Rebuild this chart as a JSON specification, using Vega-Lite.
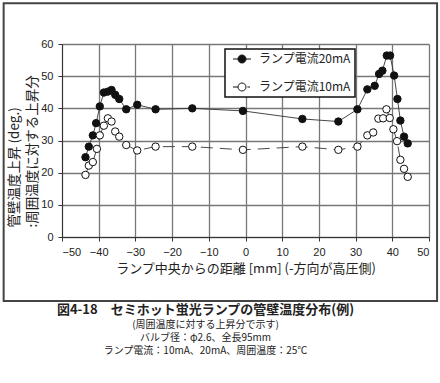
{
  "$schema": "https://vega.github.io/schema/vega-lite/v6.json",
  "width": 367,
  "height": 193,
  "autosize": "none",
  "padding": {"left": 62, "top": 44, "right": 11, "bottom": 146},
  "background": "white",
  "config": {
    "view": {"stroke": null},
    "axis": {
      "labelFont": "Liberation Sans",
      "labelFontSize": 11,
      "labelColor": "#222",
      "titleFont": "Noto Sans CJK JP",
      "titleFontSize": 13,
      "titleFontWeight": "normal",
      "titleColor": "#222",
      "domainColor": "#333",
      "tickColor": "#333",
      "tickSize": 4
    }
  },
  "data": {"values": [
    {"x": -43.6, "y": 24.8, "s": "ランプ電流20mA"},
    {"x": -42.7, "y": 28.1, "s": "ランプ電流20mA"},
    {"x": -41.6, "y": 31.6, "s": "ランプ電流20mA"},
    {"x": -40.7, "y": 35.4, "s": "ランプ電流20mA"},
    {"x": -39.7, "y": 40.6, "s": "ランプ電流20mA"},
    {"x": -38.6, "y": 44.9, "s": "ランプ電流20mA"},
    {"x": -37.5, "y": 45.2, "s": "ランプ電流20mA"},
    {"x": -36.5, "y": 45.7, "s": "ランプ電流20mA"},
    {"x": -35.5, "y": 44.2, "s": "ランプ電流20mA"},
    {"x": -34.4, "y": 42.9, "s": "ランプ電流20mA"},
    {"x": -32.5, "y": 39.7, "s": "ランプ電流20mA"},
    {"x": -29.5, "y": 41.1, "s": "ランプ電流20mA"},
    {"x": -24.5, "y": 39.7, "s": "ランプ電流20mA"},
    {"x": -14.5, "y": 40.0, "s": "ランプ電流20mA"},
    {"x": -0.7, "y": 39.2, "s": "ランプ電流20mA"},
    {"x": 15.5, "y": 36.7, "s": "ランプ電流20mA"},
    {"x": 25.3, "y": 35.9, "s": "ランプ電流20mA"},
    {"x": 30.5, "y": 39.7, "s": "ランプ電流20mA"},
    {"x": 33.2, "y": 45.9, "s": "ランプ電流20mA"},
    {"x": 35.2, "y": 47.0, "s": "ランプ電流20mA"},
    {"x": 36.4, "y": 50.7, "s": "ランプ電流20mA"},
    {"x": 37.3, "y": 51.7, "s": "ランプ電流20mA"},
    {"x": 38.5, "y": 56.4, "s": "ランプ電流20mA"},
    {"x": 39.4, "y": 56.4, "s": "ランプ電流20mA"},
    {"x": 40.5, "y": 50.2, "s": "ランプ電流20mA"},
    {"x": 41.4, "y": 42.9, "s": "ランプ電流20mA"},
    {"x": 42.2, "y": 36.2, "s": "ランプ電流20mA"},
    {"x": 43.2, "y": 31.2, "s": "ランプ電流20mA"},
    {"x": 44.2, "y": 29.1, "s": "ランプ電流20mA"},
    {"x": -43.6, "y": 19.3, "s": "ランプ電流10mA"},
    {"x": -42.7, "y": 22.2, "s": "ランプ電流10mA"},
    {"x": -41.6, "y": 23.3, "s": "ランプ電流10mA"},
    {"x": -40.5, "y": 27.4, "s": "ランプ電流10mA"},
    {"x": -39.7, "y": 31.6, "s": "ランプ電流10mA"},
    {"x": -38.6, "y": 34.6, "s": "ランプ電流10mA"},
    {"x": -37.5, "y": 36.9, "s": "ランプ電流10mA"},
    {"x": -36.5, "y": 35.9, "s": "ランプ電流10mA"},
    {"x": -35.5, "y": 32.8, "s": "ランプ電流10mA"},
    {"x": -34.4, "y": 31.2, "s": "ランプ電流10mA"},
    {"x": -32.5, "y": 28.6, "s": "ランプ電流10mA"},
    {"x": -29.5, "y": 26.9, "s": "ランプ電流10mA"},
    {"x": -24.5, "y": 28.1, "s": "ランプ電流10mA"},
    {"x": -14.5, "y": 28.1, "s": "ランプ電流10mA"},
    {"x": -0.7, "y": 27.1, "s": "ランプ電流10mA"},
    {"x": 15.5, "y": 28.1, "s": "ランプ電流10mA"},
    {"x": 25.3, "y": 27.1, "s": "ランプ電流10mA"},
    {"x": 30.5, "y": 28.1, "s": "ランプ電流10mA"},
    {"x": 33.2, "y": 31.6, "s": "ランプ電流10mA"},
    {"x": 34.8, "y": 32.5, "s": "ランプ電流10mA"},
    {"x": 36.2, "y": 36.8, "s": "ランプ電流10mA"},
    {"x": 37.5, "y": 36.9, "s": "ランプ電流10mA"},
    {"x": 38.4, "y": 39.7, "s": "ランプ電流10mA"},
    {"x": 39.3, "y": 37.0, "s": "ランプ電流10mA"},
    {"x": 40.3, "y": 33.5, "s": "ランプ電流10mA"},
    {"x": 41.3, "y": 29.8, "s": "ランプ電流10mA"},
    {"x": 42.2, "y": 24.0, "s": "ランプ電流10mA"},
    {"x": 43.2, "y": 21.2, "s": "ランプ電流10mA"},
    {"x": 44.2, "y": 18.7, "s": "ランプ電流10mA"}
  ]},
  "encoding": {
    "x": {
      "field": "x", "type": "quantitative",
      "scale": {"domain": [-50, 50], "nice": false, "zero": false},
      "axis": {
        "values": [-50, -40, -30, -20, -10, 0, 10, 20, 30, 40, 50],
        "grid": true,
        "gridColor": "#777777",
        "gridWidth": 1.3,
        "labelPadding": 5,
        "title": "ランプ中央からの距離 [mm] (-方向が高圧側)",
        "titlePadding": 5
      }
    },
    "y": {
      "field": "y", "type": "quantitative",
      "scale": {"domain": [0, 60], "nice": false},
      "axis": {
        "values": [0, 10, 20, 30, 40, 50, 60],
        "grid": true,
        "gridColor": "#777777",
        "gridWidth": 1.3,
        "labelPadding": 5,
        "title": ["管壁温度上昇 (deg.)", ":周囲温度に対する上昇分"],
        "titleAngle": -90,
        "titleAlign": "left",
        "titleBaseline": "top",
        "titleFontSize": 13.5,
        "titleX": -55,
        "titleY": 183,
        "titleLineHeight": 18
      }
    }
  },
  "layer": [
    {
      "transform": [{"filter": "datum.s == 'ランプ電流20mA'"}],
      "mark": {"type": "line", "color": "#333", "strokeWidth": 0.9}
    },
    {
      "transform": [{"filter": "datum.s == 'ランプ電流10mA'"}],
      "mark": {"type": "line", "color": "#333", "strokeWidth": 0.9, "strokeDash": [12, 7]}
    },
    {
      "mark": {"type": "point", "filled": true, "size": 55, "stroke": "#111", "strokeWidth": 1, "opacity": 1, "shape": "circle"},
      "encoding": {
        "fill": {
          "field": "s", "type": "nominal",
          "scale": {"domain": ["ランプ電流20mA", "ランプ電流10mA"], "range": ["#111", "white"]},
          "legend": {
            "orient": "none",
            "legendX": 163,
            "legendY": 5,
            "title": null,
            "strokeColor": "#111",
            "fillColor": "white",
            "padding": 4,
            "rowPadding": 16,
            "labelFont": "Noto Sans CJK JP",
            "labelFontSize": 12,
            "labelColor": "#222",
            "labelOffset": 18,
            "symbolSize": 100,
            "symbolStrokeColor": "#111",
            "symbolStrokeWidth": 1,
            "symbolOpacity": 1,
            "encode": {
              "legend": {"update": {"strokeWidth": {"value": 1.5}}},
              "symbols": {
                "update": {
                  "shape": {"signal": "datum.value == 'ランプ電流20mA' ? 'M-0.4,0H3.2M0.6,0A0.8,0.8 0 1,0 2.2,0A0.8,0.8 0 1,0 0.6,0' : 'M-0.4,0H0.6M2.5,0H3.0M0.6,0A0.8,0.8 0 1,0 2.2,0A0.8,0.8 0 1,0 0.6,0'"},
                  "stroke": {"value": "#111"}
                }
              }
            }
          }
        }
      }
    },
    {
      "data": {"values": [{"x0": -65.9, "x1": 52.2, "y0": 72.7, "y1": -19.9}]},
      "mark": {"type": "rect", "fill": "transparent", "stroke": "#444", "strokeWidth": 2, "clip": false},
      "encoding": {
        "x": {"field": "x0", "type": "quantitative"},
        "x2": {"field": "x1"},
        "y": {"field": "y0", "type": "quantitative"},
        "y2": {"field": "y1"}
      }
    }
  ],
  "title": {
    "text": "図4-18　セミホット蛍光ランプの管壁温度分布(例)",
    "subtitle": ["(周囲温度に対する上昇分で示す)", "バルブ径：φ2.6、全長95mm", "ランプ電流：10mA、20mA、周囲温度：25℃"],
    "orient": "bottom",
    "anchor": "middle",
    "offset": 2,
    "dx": -40,
    "font": "Noto Sans CJK JP",
    "fontSize": 13,
    "fontWeight": "bold",
    "color": "#222",
    "subtitleFont": "Noto Sans CJK JP",
    "subtitleFontSize": 10,
    "subtitleColor": "#222",
    "subtitleLineHeight": 13,
    "subtitlePadding": 3
  }
}
